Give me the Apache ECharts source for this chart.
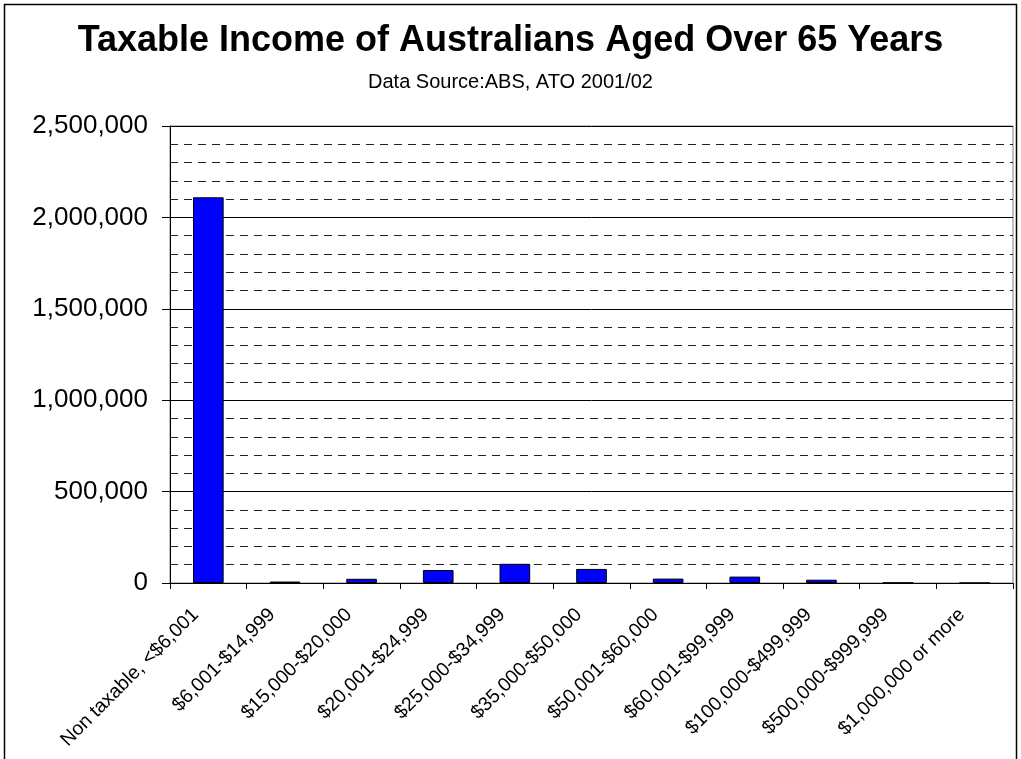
<!DOCTYPE html>
<html>
<head>
<meta charset="utf-8">
<script src="https://cdn.jsdelivr.net/npm/echarts@6/dist/echarts.min.js"></script>
<style>
html,body{margin:0;padding:0;background:#fff;}
#chart{width:1021px;height:759px;}
</style>
</head>
<body>
<div id="chart"></div>
<script>
const categories = ["Non taxable, <$6,001", "$6,001-$14,999", "$15,000-$20,000", "$20,001-$24,999", "$25,000-$34,999", "$35,000-$50,000", "$50,001-$60,000", "$60,001-$99,999", "$100,000-$499,999", "$500,000-$999,999", "$1,000,000 or more"];
const values = [2110000, 8000, 23000, 71000, 105000, 77000, 24000, 35000, 18000, 1500, 200];
const titleText = "Taxable Income of Australians Aged Over 65 Years";
const subtitleText = "Data Source:ABS, ATO 2001/02";

const chart = echarts.init(document.getElementById('chart'));
const font = "Arial, 'Liberation Sans', sans-serif";
chart.setOption({
  animation: false,
  backgroundColor: '#fff',
  title: [{
    text: titleText,
    left: 'center',
    top: 18,
    textStyle: {fontFamily: font, fontSize: 36, fontWeight: 'bold', color: '#000'}
  }, {
    text: subtitleText,
    left: 'center',
    top: 67,
    textStyle: {fontFamily: font, fontSize: 20, fontWeight: 'normal', color: '#000'}
  }],
  graphic: [{
    type: 'rect',
    shape: {x: 4.5, y: 4.5, width: 1012, height: 800},
    style: {fill: 'none', stroke: '#000', lineWidth: 1.5},
    silent: true
  }],
  grid: {
    left: 170, right: 8, top: 126, bottom: 176,
    show: true, borderColor: '#808080', borderWidth: 1
  },
  xAxis: {
    type: 'category',
    data: categories,
    boundaryGap: true,
    axisLine: {lineStyle: {color: '#000', width: 1}},
    axisTick: {show: true, alignWithLabel: false, length: 6, lineStyle: {color: '#000'}},
    axisLabel: {rotate: 45, interval: 0, margin: 16, padding: [0, 18, 0, 0], fontFamily: font, fontSize: 19.5, color: '#000'}
  },
  yAxis: {
    type: 'value',
    min: 0, max: 2500000, interval: 500000,
    axisLine: {show: true, lineStyle: {color: '#000', width: 1}},
    axisTick: {show: true, length: 8, lineStyle: {color: '#000'}},
    axisLabel: {
      fontFamily: font, fontSize: 26, color: '#000', margin: 22,
      formatter: v => v.toLocaleString('en-US')
    },
    splitLine: {show: true, lineStyle: {color: '#000', width: 1}},
    minorTick: {show: false, splitNumber: 5},
    minorSplitLine: {show: true, lineStyle: {color: '#222', type: [8, 6], width: 1}}
  },
  series: [{
    type: 'bar',
    data: values,
    barWidth: '40%',
    itemStyle: {color: '#0000FF', borderColor: '#000', borderWidth: 1}
  }]
});
</script>
</body>
</html>
